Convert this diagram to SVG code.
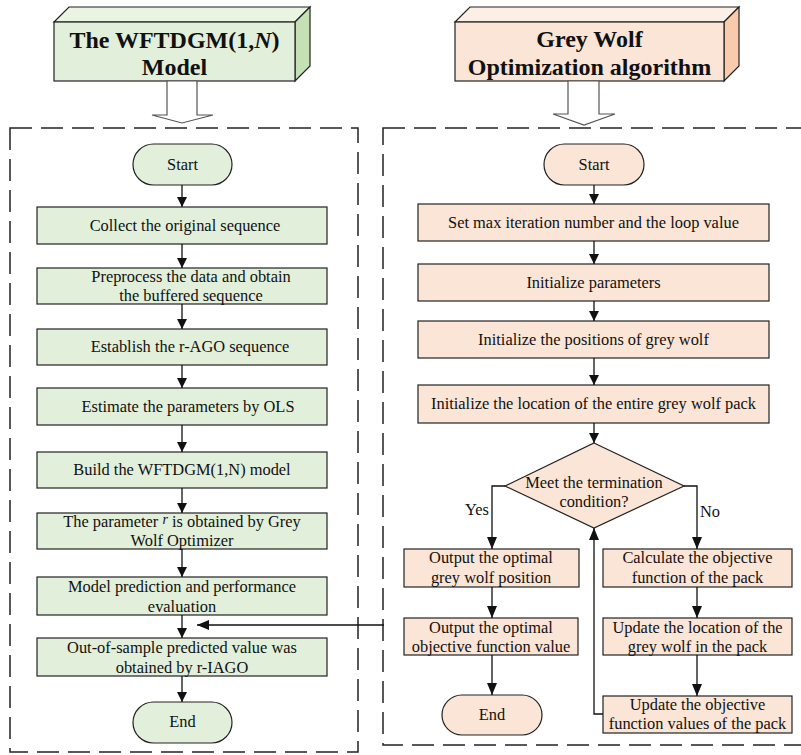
<svg xmlns="http://www.w3.org/2000/svg" width="801" height="755" viewBox="0 0 801 755">
<style>
text{font-family:"Liberation Serif","Times New Roman",serif;fill:#111;}
.t{font-size:16.4px;text-anchor:middle;}
.h{font-size:24px;font-weight:bold;text-anchor:middle;}
.g{fill:#e2efda;stroke:#222;stroke-width:1.2;}
.o{fill:#fbe5d6;stroke:#222;stroke-width:1.2;}
.dash{fill:none;stroke:#222;stroke-width:1.5;stroke-dasharray:22 9;}
.c{fill:none;stroke:#111;stroke-width:1.3;}
.ba{fill:#fff;stroke:#555;stroke-width:1.2;}
</style>
<defs>
<marker id="ah" viewBox="0 0 10 10" refX="10" refY="5" markerWidth="10" markerHeight="10" markerUnits="userSpaceOnUse" orient="auto">
<path d="M0,0 L10,5 L0,10 z" fill="#111"/>
</marker>
<marker id="ahb" viewBox="0 0 12 10" refX="12" refY="5" markerWidth="12" markerHeight="10" markerUnits="userSpaceOnUse" orient="auto">
<path d="M0,0 L12,5 L0,10 z" fill="#111"/>
</marker>
</defs>

<!-- dashed containers -->
<rect class="dash" x="10" y="128" width="348" height="624"/>
<rect class="dash" x="383" y="128" width="430" height="617"/>

<!-- header left -->
<g id="header-left">
<path d="M54,22 L69,7 L310,7 L295,22 z" fill="#eaf4e3" stroke="#222" stroke-width="1.2"/>
<path d="M295,22 L310,7 L310,66 L295,81 z" fill="#c5e0b4" stroke="#222" stroke-width="1.2"/>
<rect x="54" y="22" width="241" height="59" class="g"/>
<text class="h" x="174.5" y="48">The WFTDGM(1,<tspan font-style="italic">N</tspan>)</text>
<text class="h" x="174.5" y="75">Model</text>
</g>
<g id="header-left-arrow">
<path class="ba" d="M167,81 L197,81 L197,115 L213,115 L182,123 L152,115 L167,115 z"/>
</g>

<!-- header right -->
<g id="header-right">
<path d="M455,22 L470,7 L739,7 L724,22 z" fill="#fcefe5" stroke="#222" stroke-width="1.2"/>
<path d="M724,22 L739,7 L739,66 L724,81 z" fill="#f8cbad" stroke="#222" stroke-width="1.2"/>
<rect x="455" y="22" width="269" height="59" class="o"/>
<text class="h" x="589.5" y="47">Grey Wolf</text>
<text class="h" x="589.5" y="75">Optimization algorithm</text>
</g>
<g id="header-right-arrow">
<path class="ba" d="M568,81 L599,81 L599,114 L615,114 L584,125 L553,114 L568,114 z"/>
</g>

<!-- left column nodes -->
<g id="l-start"><rect class="g" x="133" y="144" width="99" height="41" rx="20.5"/><text class="t" x="182.5" y="170">Start</text></g>
<g id="l1"><rect class="g" x="37" y="207" width="290" height="37"/><text class="t" x="185" y="231">Collect the original sequence</text></g>
<g id="l2"><rect class="g" x="37" y="268" width="290" height="36"/><text class="t" x="191" y="282">Preprocess the data and obtain</text><text class="t" x="191" y="301">the buffered sequence</text></g>
<g id="l3"><rect class="g" x="37" y="329" width="290" height="36"/><text class="t" x="190" y="352">Establish the r-AGO sequence</text></g>
<g id="l4"><rect class="g" x="37" y="388" width="290" height="37"/><text class="t" x="188" y="412">Estimate the parameters by OLS</text></g>
<g id="l5"><rect class="g" x="37" y="452" width="290" height="36"/><text class="t" x="182" y="475">Build the WFTDGM(1,N) model</text></g>
<g id="l6"><rect class="g" x="37" y="513" width="290" height="36"/><text class="t" x="182" y="527">The parameter <tspan font-style="italic" font-size="14" dy="-3">r</tspan><tspan dy="3"> is obtained by Grey</tspan></text><text class="t" x="182" y="546">Wolf Optimizer</text></g>
<g id="l7"><rect class="g" x="37" y="577" width="290" height="38"/><text class="t" x="182" y="592">Model prediction and performance</text><text class="t" x="182" y="612">evaluation</text></g>
<g id="l8"><rect class="g" x="37" y="638" width="290" height="38"/><text class="t" x="182" y="653">Out-of-sample predicted value was</text><text class="t" x="182" y="673">obtained by r-IAGO</text></g>
<g id="l-end"><rect class="g" x="133" y="702" width="99" height="41" rx="20.5"/><text class="t" x="182.5" y="727">End</text></g>

<!-- right column nodes -->
<g id="r-start"><rect class="o" x="544" y="144" width="100" height="41" rx="20.5"/><text class="t" x="594" y="170">Start</text></g>
<g id="r1"><rect class="o" x="418" y="204" width="351" height="37"/><text class="t" x="593.5" y="228">Set max iteration number and the loop value</text></g>
<g id="r2"><rect class="o" x="418" y="264" width="351" height="37"/><text class="t" x="593.5" y="288">Initialize parameters</text></g>
<g id="r3"><rect class="o" x="418" y="321" width="351" height="37"/><text class="t" x="593.5" y="345">Initialize the positions of grey wolf</text></g>
<g id="r4"><rect class="o" x="418" y="385" width="351" height="38"/><text class="t" x="593.5" y="409">Initialize the location of the entire grey wolf pack</text></g>
<g id="r-dec"><path class="o" d="M594,443 L684,486 L594,528 L505,486 z"/><text class="t" x="594" y="488">Meet the termination</text><text class="t" x="594" y="507">condition?</text></g>
<g id="r-yes1"><rect class="o" x="404" y="549" width="175" height="38"/><text class="t" x="491" y="563">Output the optimal</text><text class="t" x="491" y="583">grey wolf position</text></g>
<g id="r-yes2"><rect class="o" x="404" y="618" width="174" height="37"/><text class="t" x="491" y="633">Output the optimal</text><text class="t" x="491" y="652">objective function value</text></g>
<g id="r-end"><rect class="o" x="442" y="695" width="100" height="40" rx="20"/><text class="t" x="492" y="720">End</text></g>
<g id="r-no1"><rect class="o" x="603" y="549" width="189" height="38"/><text class="t" x="697.5" y="563">Calculate the objective</text><text class="t" x="697.5" y="583">function of the pack</text></g>
<g id="r-no2"><rect class="o" x="603" y="618" width="189" height="37"/><text class="t" x="697.5" y="633">Update the location of the</text><text class="t" x="697.5" y="652">grey wolf in the pack</text></g>
<g id="r-no3"><rect class="o" x="603" y="696" width="189" height="37"/><text class="t" x="697.5" y="710">Update the objective</text><text class="t" x="697.5" y="729">function values of the pack</text></g>

<!-- connectors -->
<g id="connectors">
<path class="c" marker-end="url(#ah)" d="M182,185 L182,207"/>
<path class="c" marker-end="url(#ah)" d="M182,244 L182,268"/>
<path class="c" marker-end="url(#ah)" d="M182,304 L182,329"/>
<path class="c" marker-end="url(#ah)" d="M182,365 L182,388"/>
<path class="c" marker-end="url(#ah)" d="M182,425 L182,452"/>
<path class="c" marker-end="url(#ah)" d="M182,488 L182,513"/>
<path class="c" marker-end="url(#ah)" d="M182,549 L182,577"/>
<path class="c" marker-end="url(#ah)" d="M182,615 L182,638"/>
<path class="c" marker-end="url(#ah)" d="M182,676 L182,702"/>
<path class="c" marker-end="url(#ahb)" d="M384,625 L197,625"/>

<path class="c" marker-end="url(#ah)" d="M594,185 L594,204"/>
<path class="c" marker-end="url(#ah)" d="M594,241 L594,264"/>
<path class="c" marker-end="url(#ah)" d="M594,301 L594,321"/>
<path class="c" marker-end="url(#ah)" d="M594,358 L594,385"/>
<path class="c" marker-end="url(#ah)" d="M594,423 L594,443"/>
<path class="c" marker-end="url(#ahb)" d="M505,486 L492,486 L492,549"/>
<path class="c" marker-end="url(#ahb)" d="M684,486 L697,486 L697,549"/>
<path class="c" marker-end="url(#ahb)" d="M492,587 L492,618"/>
<path class="c" marker-end="url(#ahb)" d="M492,655 L492,695"/>
<path class="c" marker-end="url(#ahb)" d="M697,587 L697,618"/>
<path class="c" marker-end="url(#ahb)" d="M697,655 L697,696"/>
<path class="c" marker-end="url(#ahb)" d="M603,714 L594,714 L594,528"/>
<text class="t" x="477" y="515">Yes</text>
<text class="t" x="710" y="517">No</text>
</g>
</svg>
